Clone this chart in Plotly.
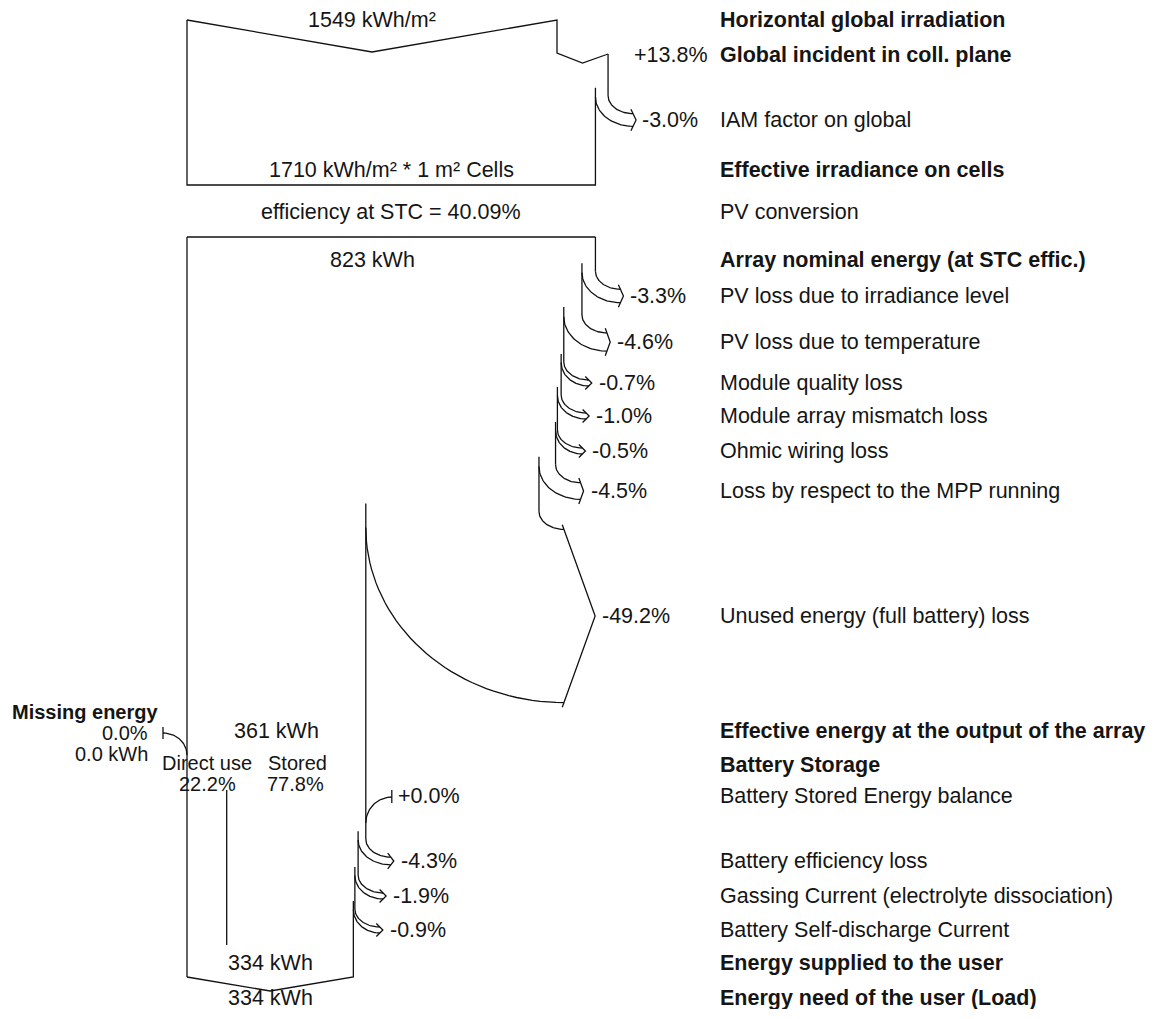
import numpy as np
import plotly.graph_objects as go

# ---- values ----
hgi = 1549                 # kWh/m2, horizontal global irradiation
gi_gain = 13.8             # %, global incident in coll. plane
iam_loss = -3.0            # %
eff_irr = 1710             # kWh/m2 on cells
stc_eff = 40.09            # %
array_nominal = 823        # kWh
array_losses = [-3.3, -4.6, -0.7, -1.0, -0.5, -4.5, -49.2]
array_loss_names = ["PV loss due to irradiance level", "PV loss due to temperature",
                    "Module quality loss", "Module array mismatch loss", "Ohmic wiring loss",
                    "Loss by respect to the MPP running", "Unused energy (full battery) loss"]
array_output = 361         # kWh
missing_pct = 0.0
missing_kwh = 0.0
direct_use = 22.2          # %
stored = 77.8              # %
battery_gain = 0.0         # %
battery_losses = [-4.3, -1.9, -0.9]
battery_loss_names = ["Battery efficiency loss", "Gassing Current (electrolyte dissociation)",
                      "Battery Self-discharge Current"]
supplied = 334             # kWh
need = 334                 # kWh

# ---- layout (pixel-ish units) ----
X0 = 187
K = 370 / 1549             # width per kWh/m2
LABEL_X = 718
row_top = 20
row_incident = 55
row_iam = 120
row_cells = 170
row_conv = 212
row_nominal = 260
array_rows = [296, 342, 383, 416, 451, 491, 616]
row_output = 731
row_storage = 765
row_balance = 796
battery_rows = [861, 896, 930]
row_supplied = 963
row_need = 998
box1_bottom = 185
box2_top = 237
bottom_y = 977

FONT = "Liberation Sans, Arial, sans-serif"
FS = 21.5
FS_SMALL = 20
TXT = "#151515"

xs, ys = [], []


def seg(px, py):
    xs.extend(list(px) + [None])
    ys.extend(list(py) + [None])


def qarc(x0, y0, x1, y1, n=40):
    t = np.linspace(0, np.pi / 2, n)
    return x1 - (x1 - x0) * np.cos(t), y0 + (y1 - y0) * np.sin(t)


def loss_arrow(x_prev, x_new, y_row):
    w = x_prev - x_new
    h = max(w, 6)
    x_end = x_prev + 25
    y_out = y_row - h / 2 - 18
    y_in = y_out + min(0.1 * h, 16)
    seg(*qarc(x_prev, y_out, x_end, y_row - h / 2))
    seg(*qarc(x_new, y_in, x_end, y_row + h / 2))
    d = max(3, 0.18 * h)
    tip = x_end + d
    # arrow head: two short arms meeting at the tip, running a little past the curves
    pts = []
    for s in (-1, 1):
        px, py = x_end, y_row + s * h / 2
        dx, dy = px - tip, py - y_row
        L = np.hypot(dx, dy)
        pts.append((px + dx / L * 5, py + dy / L * 5))
    seg([pts[0][0], tip, pts[1][0]], [pts[0][1], y_row, pts[1][1]])
    return tip, y_out, y_row - h / 2 - 26


labels = []


def label(x, y, text, bold=False, anchor="left", size=FS):
    labels.append(dict(x=x, y=y, text=f"<b>{text}</b>" if bold else text,
                       xanchor=anchor, size=size))


# ---- irradiation box ----
w_hgi = hgi * K
w_gi = w_hgi * (1 + gi_gain / 100)
w_eff = w_gi * (1 + iam_loss / 100)
seg([X0, X0 + w_hgi / 2, X0 + w_hgi, X0 + w_hgi, X0 + (w_hgi + w_gi) / 2, X0 + w_gi],
    [row_top, row_top + 32, row_top, row_top + 33, row_top + 43, row_top + 34])
tip, y_out, new_top = loss_arrow(X0 + w_gi, X0 + w_eff, row_iam)
seg([X0 + w_gi, X0 + w_gi], [row_top + 34, y_out])
seg([X0 + w_eff, X0 + w_eff, X0, X0], [new_top, box1_bottom, box1_bottom, row_top])

label(X0 + w_hgi / 2, row_top, f"{hgi} kWh/m²", anchor="center")
label(X0 + w_gi + 24, row_incident, f"+{gi_gain:.1f}%")
label(tip + 4, row_iam, f"{iam_loss:.1f}%")
label(X0 + w_eff / 2, row_cells, f"{eff_irr} kWh/m² * 1 m² Cells", anchor="center")
label(X0 + w_eff / 2, row_conv, f"efficiency at STC = {stc_eff:.2f}%", anchor="center")
label(X0 + w_hgi / 2, row_nominal, f"{array_nominal} kWh", anchor="center")

# ---- array box ----
seg([X0, X0 + w_eff], [box2_top, box2_top])
seg([X0, X0], [box2_top, bottom_y])
w = w_eff
edge_top = box2_top
for loss, y_row in zip(array_losses, array_rows):
    w_new = w * (1 + loss / 100)
    tip, y_out, new_top = loss_arrow(X0 + w, X0 + w_new, y_row)
    seg([X0 + w, X0 + w], [edge_top, y_out])
    label(tip + 5, y_row, f"{loss:.1f}%")
    w, edge_top = w_new, new_top
w_out = w

# missing energy
seg(*qarc(X0, row_output + 24, X0 - 24, row_output + 2))
seg([X0 - 24, X0 - 24], [row_output - 4, row_output + 8])
label(10, row_output - 19, "Missing energy", bold=True, size=FS_SMALL)
label(150, row_output + 2, f"{missing_pct:.1f}%", anchor="right", size=FS_SMALL)
label(150, row_output + 23, f"{missing_kwh:.1f} kWh", anchor="right", size=FS_SMALL)
label(X0 + w_out / 2, row_output, f"{array_output} kWh", anchor="center")
x_split = X0 + w_out * direct_use / 100
label(X0 + 20, row_storage - 2, "Direct use", anchor="center", size=FS_SMALL)
label(X0 + 110, row_storage - 2, "Stored", anchor="center", size=FS_SMALL)
label(X0 + 20, row_storage + 19, f"{direct_use:.1f}%", anchor="center", size=FS_SMALL)
label(X0 + 108, row_storage + 19, f"{stored:.1f}%", anchor="center", size=FS_SMALL)
seg([x_split, x_split], [row_storage + 25, bottom_y - 32])

# ---- battery ----
seg(*qarc(X0 + w_out, row_balance + 27, X0 + w_out + 26, row_balance + 1))
seg([X0 + w_out + 26, X0 + w_out + 26], [row_balance - 6, row_balance + 7])
label(X0 + w_out + 30, row_balance, f"+{battery_gain:.1f}%")
for loss, y_row in zip(battery_losses, battery_rows):
    w_new = w * (1 + loss / 100)
    tip, y_out, new_top = loss_arrow(X0 + w, X0 + w_new, y_row)
    seg([X0 + w, X0 + w], [edge_top, y_out])
    label(tip + 5, y_row, f"{loss:.1f}%")
    w, edge_top = w_new, new_top
seg([X0 + w, X0 + w, X0 + w / 2, X0], [edge_top, bottom_y, bottom_y + 14, bottom_y])
label(X0 + w / 2, row_supplied, f"{supplied} kWh", anchor="center")
label(X0 + w / 2, row_need, f"{need} kWh", anchor="center")

# ---- right-hand captions ----
captions = [
    (row_top, "Horizontal global irradiation", True),
    (row_incident, "Global incident in coll. plane", True),
    (row_iam, "IAM factor on global", False),
    (row_cells, "Effective irradiance on cells", True),
    (row_conv, "PV conversion", False),
    (row_nominal, "Array nominal energy (at STC effic.)", True),
] + [(y, n, False) for y, n in zip(array_rows, array_loss_names)] + [
    (row_output, "Effective energy at the output of the array", True),
    (row_storage, "Battery Storage", True),
    (row_balance, "Battery Stored Energy balance", False),
] + [(y, n, False) for y, n in zip(battery_rows, battery_loss_names)] + [
    (row_supplied, "Energy supplied to the user", True),
    (row_need, "Energy need of the user (Load)", True),
]
for y, t, b in captions:
    label(LABEL_X, y, t, bold=b)

fig = go.Figure()
fig.add_trace(go.Scatter(x=xs, y=ys, mode="lines", line=dict(color="#111111", width=1.3),
                         hoverinfo="skip", showlegend=False))
for lb in labels:
    fig.add_annotation(x=lb["x"], y=lb["y"], text=lb["text"], xanchor=lb["xanchor"],
                       yanchor="middle", showarrow=False,
                       font=dict(family=FONT, size=lb["size"], color=TXT))

fig.update_layout(width=1142, height=1001, margin=dict(l=0, r=0, t=0, b=0),
                  plot_bgcolor="white", paper_bgcolor="white",
                  xaxis=dict(range=[8, 1150], visible=False, fixedrange=True),
                  yaxis=dict(range=[1009, 8], visible=False, fixedrange=True))
fig.write_html("out.html")
